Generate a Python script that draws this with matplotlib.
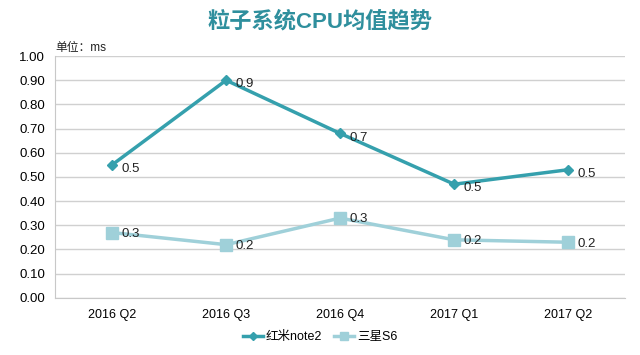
import matplotlib
matplotlib.use('Agg')
import matplotlib.pyplot as plt

plt.rcParams['font.family'] = ['Liberation Sans', 'Noto Sans CJK SC', 'DejaVu Sans']

quarters = ['2016 Q2', '2016 Q3', '2016 Q4', '2017 Q1', '2017 Q2']
redmi = [0.55, 0.90, 0.68, 0.47, 0.53]
redmi_labels = ['0.5', '0.9', '0.7', '0.5', '0.5']
samsung = [0.27, 0.22, 0.33, 0.24, 0.23]
samsung_labels = ['0.3', '0.2', '0.3', '0.2', '0.2']
yticks = [0.0, 0.1, 0.2, 0.3, 0.4, 0.5, 0.6, 0.7, 0.8, 0.9, 1.0]

dark = '#35a0ad'
light = '#9fd0d9'

fig = plt.figure(figsize=(6.4, 3.55), dpi=100)
ax = fig.add_axes([0.086, 0.161, 0.891, 0.681])

x = range(len(quarters))
ax.plot(x, redmi, color=dark, lw=2.5, marker='D', ms=5, label='红米note2', zorder=3)
ax.plot(x, samsung, color=light, lw=2.5, marker='s', ms=8, label='三星S6', zorder=3)

for i in x:
    ax.annotate(redmi_labels[i], (i, redmi[i]), xytext=(7, -3), textcoords='offset points',
                ha='left', va='center', fontsize=9.5, color='#222222')
    ax.annotate(samsung_labels[i], (i, samsung[i]), xytext=(7, -1), textcoords='offset points',
                ha='left', va='center', fontsize=9.5, color='#222222')

ax.set_xlim(-0.5, 4.5)
ax.set_ylim(0, 1.0)
ax.set_xticks(list(x))
ax.set_xticklabels(quarters, fontsize=9)
ax.set_yticks(yticks)
ax.set_yticklabels([f'{v:.2f}' for v in yticks], fontsize=9.5)
ax.grid(axis='y', color='#d0d0d0', lw=1)
ax.set_axisbelow(True)
for s in ['top', 'right']:
    ax.spines[s].set_visible(False)
ax.spines['left'].set_color('#c8c8c8')
ax.spines['bottom'].set_color('#c8c8c8')
ax.tick_params(length=0, pad=8)
ax.tick_params(axis='y', pad=7)

fig.text(0.5, 0.938, '粒子系统CPU均值趋势', ha='center', va='center', fontsize=16,
         fontweight='bold', color='#2f8f9d')
fig.text(0.086, 0.865, '单位：ms', ha='left', va='center', fontsize=8.5, color='#222222')

leg = fig.legend(loc='center', bbox_to_anchor=(0.5, 0.05), ncol=2, frameon=False, fontsize=9,
                 handlelength=1.6, handletextpad=0.2, columnspacing=1.0, markerscale=0.75)

fig.savefig('out.png', dpi=100)
